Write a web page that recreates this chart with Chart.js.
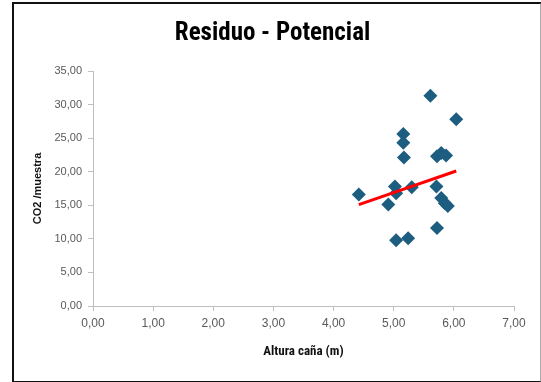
<!DOCTYPE html>
<html lang="es">
<head>
    <meta charset="UTF-8">
    <title>Residuo - Potencial</title>
    <script src="https://cdn.jsdelivr.net/npm/chart.js"></script>
    <style>
        html, body { margin: 0; padding: 0; background: #fff; }
        #wrap { position: absolute; left: 0; top: 0; width: 541px; height: 382px; }
        #frame {
            position: absolute; left: 12px; top: 2px; width: 526px; height: 377px;
            border-left: 2px solid #111; border-top: 2px solid #111;
            border-bottom: 2px solid #111; border-right: 2px solid #aaa;
            pointer-events: none;
        }
    </style>
</head>
<body>
<div id="wrap">
    <canvas id="residuoChart" width="541" height="382"></canvas>
</div>
<div id="frame"></div>

<script>
    // Altura de caña (m) y CO2 por muestra
    const alturaCana = [5.61, 6.04, 5.16, 5.16, 5.17, 5.72, 5.79, 5.87, 4.42, 5.02,
                        5.04, 5.30, 5.71, 4.91, 5.79, 5.85, 5.90, 5.72, 5.04, 5.24];
    const co2Muestra = [31.3, 27.8, 25.6, 24.3, 22.1, 22.3, 22.8, 22.4, 16.6, 17.8,
                        16.8, 17.7, 17.8, 15.1, 16.1, 15.3, 14.9, 11.6, 9.8, 10.1];

    // Línea de tendencia potencial (extremos)
    const tendenciaX = [4.42, 6.04];
    const tendenciaY = [15.1, 20.1];

    const puntos = alturaCana.map((x, i) => ({ x: x, y: co2Muestra[i] }));
    const tendencia = tendenciaX.map((x, i) => ({ x: x, y: tendenciaY[i] }));

    const fmt = v => Number(v).toFixed(2).replace('.', ',');
    const axisGrey = '#bfbfbf';
    const narrow = "'Roboto Condensed', 'Liberation Sans Narrow', 'DejaVu Sans Condensed', sans-serif";

    const ctx = document.getElementById('residuoChart').getContext('2d');
    new Chart(ctx, {
        type: 'scatter',
        data: {
            datasets: [{
                label: 'CO2 /muestra',
                data: puntos,
                pointStyle: 'rectRot',
                pointRadius: 7,
                pointHoverRadius: 7,
                backgroundColor: '#1c5d80',
                borderColor: '#1c5d80',
                borderWidth: 0,
                order: 2
            }, {
                label: 'Potencial',
                type: 'line',
                data: tendencia,
                borderColor: '#ff0000',
                borderWidth: 3,
                pointRadius: 0,
                fill: false,
                order: 1
            }]
        },
        options: {
            responsive: false,
            animation: false,
            layout: { padding: { left: 31, right: 27, top: 0, bottom: 22 } },
            plugins: {
                legend: { display: false },
                tooltip: { enabled: false },
                title: {
                    display: true,
                    text: 'Residuo - Potencial',
                    color: '#000',
                    font: { family: narrow, size: 25, weight: 'bold' },
                    padding: { top: 19, bottom: 22 }
                }
            },
            scales: {
                x: {
                    type: 'linear',
                    min: 0,
                    max: 7,
                    ticks: {
                        stepSize: 1,
                        callback: fmt,
                        color: '#595959',
                        padding: 5,
                        font: { family: "'Liberation Sans', Arial, sans-serif", size: 12 }
                    },
                    grid: { drawOnChartArea: false, drawTicks: true, tickLength: 5, color: axisGrey },
                    border: { display: true, color: axisGrey, width: 1 },
                    title: {
                        display: true,
                        text: 'Altura caña (m)',
                        color: '#111',
                        font: { family: narrow, size: 13, weight: 'bold' },
                        padding: { top: 9, bottom: 0 }
                    }
                },
                y: {
                    min: 0,
                    max: 35,
                    ticks: {
                        stepSize: 5,
                        callback: fmt,
                        color: '#595959',
                        padding: 6,
                        font: { family: "'Liberation Sans', Arial, sans-serif", size: 11 }
                    },
                    grid: { drawOnChartArea: false, drawTicks: true, tickLength: 5, color: axisGrey },
                    border: { display: true, color: axisGrey, width: 1 },
                    title: {
                        display: true,
                        text: 'CO2 /muestra',
                        color: '#111',
                        font: { family: "'Liberation Sans', Arial, sans-serif", size: 11, weight: 'bold' },
                        padding: 0
                    },
                    afterFit: scale => { scale.width = 62; }
                }
            }
        }
    });
</script>
</body>
</html>
